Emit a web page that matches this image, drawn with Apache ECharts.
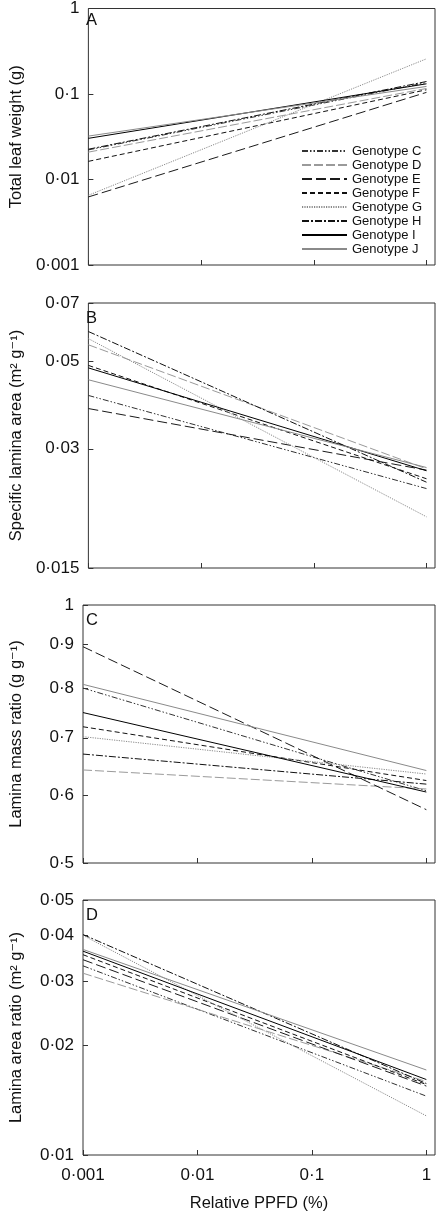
<!DOCTYPE html>
<html><head><meta charset="utf-8">
<script src="https://cdn.jsdelivr.net/npm/echarts@6/dist/echarts.min.js"></script>
<style>html,body{margin:0;padding:0;background:#fff}#c{width:436px;height:1213px}</style>
</head><body><div id="c"></div>
<script>
// ---- data ----
const genotypes = ['Genotype C','Genotype D','Genotype E','Genotype F','Genotype G','Genotype H','Genotype I','Genotype J'];
const ppfdEnds = [0.001, 1];           // relative PPFD (%) at the ends of each fitted line
const xTicks = [0.001, 0.01, 0.1, 1];

// Panel A: total leaf weight (g)
const leafWeightLow  = [0.0222, 0.0209, 0.00625, 0.0163, 0.00654, 0.0226, 0.0303, 0.0322];
const leafWeightHigh = [0.136, 0.116, 0.1045, 0.112, 0.258, 0.140, 0.1316, 0.1226];
const yTicksA = [0.001, 0.01, 0.1, 1];

// Panel B: specific lamina area (m2 g-1)
const slaLow  = [0.0409, 0.0549, 0.0379, 0.0487, 0.0569, 0.0593, 0.0480, 0.0448];
const slaHigh = [0.0238, 0.0267, 0.0265, 0.0252, 0.0202, 0.0247, 0.0264, 0.0269];
const yTicksB = [0.015, 0.03, 0.05, 0.07];

// Panel C: lamina mass ratio (g g-1)
const lmrLow  = [0.800, 0.642, 0.894, 0.721, 0.702, 0.670, 0.749, 0.808];
const lmrHigh = [0.607, 0.610, 0.577, 0.624, 0.635, 0.618, 0.605, 0.641];
const yTicksC = [0.5, 0.6, 0.7, 0.8, 0.9, 1];

// Panel D: lamina area ratio (m2 g-1)
const larLow  = [0.0330, 0.0315, 0.0343, 0.0354, 0.0400, 0.0402, 0.0362, 0.0366];
const larHigh = [0.0145, 0.0159, 0.01545, 0.0156, 0.0128, 0.0157, 0.0161, 0.0171];
const yTicksD = [0.01, 0.02, 0.03, 0.04, 0.05];

// ---- styles ----
const lineColors = ['#333', '#9a9a9a', '#1a1a1a', '#111', '#8a8a8a', '#111', '#000', '#8a8a8a'];
const lineDashes = [[6,2,1.5,2,1.5,2], [9,3], [10,4], [5,3], [1.2,1.2], [7,2,2,2], 'solid', 'solid'];

const panels = [
  {low: leafWeightLow, high: leafWeightHigh, ticks: yTicksA, name: 'Total leaf weight (g)', letter: 'A', top: 5, height: 260},
  {low: slaLow, high: slaHigh, ticks: yTicksB, name: 'Specific lamina area (m\u00B2 g\u207B\u00B9)', letter: 'B', top: 303, height: 265},
  {low: lmrLow, high: lmrHigh, ticks: yTicksC, name: 'Lamina mass ratio (g g\u207B\u00B9)', letter: 'C', top: 605, height: 258},
  {low: larLow, high: larHigh, ticks: yTicksD, name: 'Lamina area ratio (m\u00B2 g\u207B\u00B9)', letter: 'D', top: 900, height: 259}
];

const FONT = '"Liberation Sans", Arial, Helvetica, "DejaVu Sans", sans-serif';
const fmt = v => String(Number(Number(v).toPrecision(6))).replace('.', '\u00B7');

const grid = [], xAxis = [], yAxis = [], series = [], title = [];
panels.forEach((p, i) => {
  grid.push({left: 76, right: 1, top: p.top, height: p.height, show: true, borderColor: '#333', borderWidth: 1, backgroundColor: 'transparent'});
  xAxis.push({
    type: 'log', logBase: 10, gridIndex: i, min: 0.001, max: 1.19,
    axisLine: {show: false},
    axisTick: {show: true, inside: true, length: 5, customValues: xTicks, lineStyle: {color: '#333', width: 1}},
    axisLabel: {show: i === 3, customValues: xTicks, formatter: fmt, fontSize: 17, color: '#111', margin: 12, fontFamily: FONT},
    splitLine: {show: false},
    name: i === 3 ? 'Relative PPFD (%)' : '', nameLocation: 'middle', nameGap: 40,
    nameTextStyle: {fontSize: 16.5, color: '#111', fontFamily: FONT}
  });
  yAxis.push({
    type: 'log', logBase: 10, gridIndex: i, min: p.ticks[0], max: p.ticks[p.ticks.length - 1],
    axisLine: {show: false},
    axisTick: {show: true, inside: true, length: 5, customValues: p.ticks, lineStyle: {color: '#333', width: 1}},
    axisLabel: {customValues: p.ticks, formatter: fmt, fontSize: 17, color: '#111', margin: 9, fontFamily: FONT},
    splitLine: {show: false},
    name: p.name, nameLocation: 'middle', nameGap: 58, nameRotate: 90,
    nameTextStyle: {fontSize: 16.5, color: '#111', fontFamily: FONT}
  });
  title.push({text: p.letter, left: 86, top: p.top + 7, padding: 0,
    textStyle: {fontSize: 16.5, fontWeight: 'normal', color: '#111', fontFamily: FONT}});
  genotypes.forEach((g, k) => {
    series.push({
      type: 'line', name: g, xAxisIndex: i, yAxisIndex: i, symbol: 'none', silent: true,
      data: [[ppfdEnds[0], p.low[k]], [ppfdEnds[1], p.high[k]]],
      lineStyle: {color: lineColors[k], width: 1, type: lineDashes[k]},
      itemStyle: {color: lineColors[k]}
    });
  });
});

const chart = echarts.init(document.getElementById('c'), null, {renderer: 'canvas'});
chart.setOption({
  animation: false,
  backgroundColor: '#fff',
  title, grid, xAxis, yAxis, series,
  legend: {
    data: genotypes, orient: 'vertical', left: 301, top: 144, padding: 0,
    itemWidth: 45, itemHeight: 14, itemGap: 0, selectedMode: false,
    itemStyle: {opacity: 0, borderWidth: 0},
    textStyle: {fontSize: 13, color: '#111', fontFamily: FONT, lineHeight: 14}
  }
});
</script>
</body></html>
